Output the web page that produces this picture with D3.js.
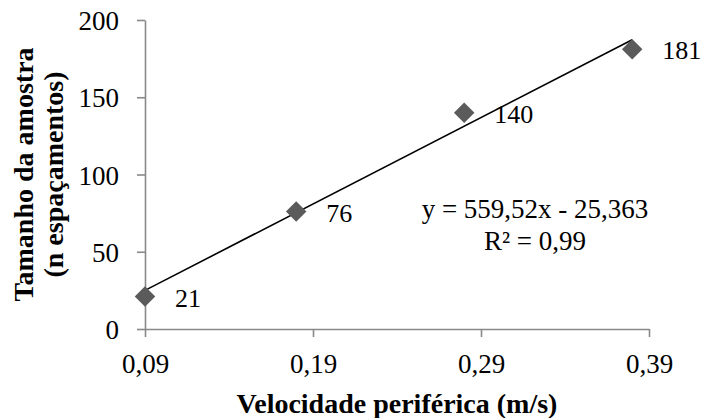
<!DOCTYPE html>
<html>
<head>
<meta charset="utf-8">
<script src="https://cdn.jsdelivr.net/npm/d3@7"></script>
<style>
  html, body { margin: 0; padding: 0; background: #fff; }
  svg { display: block; }
  text { font-family: "Liberation Serif", "Times New Roman", serif; }
</style>
</head>
<body>
<svg id="chart" width="701" height="418"></svg>
<script>
const velocity = [0.09, 0.18, 0.28, 0.38];
const sampleSize = [21, 76, 140, 181];
const xTicks = [0.09, 0.19, 0.29, 0.39];
const yTicks = [0, 50, 100, 150, 200];
const trendSlope = 559.52;
const trendIntercept = -25.363;
const equationLines = ["y = 559,52x - 25,363", "R² = 0,99"];
const xTitle = "Velocidade periférica (m/s)";
const yTitleLines = ["Tamanho da amostra", "(n espaçamentos)"];

(function () {
const svg = d3.select("#chart");
const mLeft = 145, mRight = 649, mTop = 20, mBottom = 329;
const x = d3.scaleLinear().domain([0.09, 0.39]).range([mLeft, mRight]);
const y = d3.scaleLinear().domain([0, 200]).range([mBottom, mTop]);
const fmt = d => d3.format(".2f")(d).replace(".", ",");
const axisColor = "#898989";

// X axis
const gx = svg.append("g").attr("transform", `translate(0,${mBottom})`)
  .call(d3.axisBottom(x).tickValues(xTicks).tickFormat(fmt).tickSize(8).tickPadding(17).tickSizeOuter(0));
// Y axis
const gy = svg.append("g").attr("transform", `translate(${mLeft},0)`)
  .call(d3.axisLeft(y).tickValues(yTicks).tickSize(8).tickPadding(18).tickSizeOuter(0));
[gx, gy].forEach(g => {
  g.select(".domain").attr("stroke", axisColor).attr("stroke-width", 1.6);
  g.selectAll(".tick line").attr("stroke", axisColor).attr("stroke-width", 1.6);
  g.selectAll(".tick text").attr("fill", "#000").attr("font-size", 27)
    .attr("font-family", "Liberation Serif, Times New Roman, serif");
});
gy.selectAll(".tick text").attr("dy", "0.36em");

// Trend line
const xs = d3.extent(velocity);
svg.append("line")
  .attr("x1", x(xs[0])).attr("y1", y(trendSlope * xs[0] + trendIntercept))
  .attr("x2", x(xs[1])).attr("y2", y(trendSlope * xs[1] + trendIntercept))
  .attr("stroke", "#000").attr("stroke-width", 1.6);

// Markers
const data = velocity.map((v, i) => ({ v, n: sampleSize[i] }));
const diamond = d3.symbol().type(d3.symbolSquare).size(210);
svg.append("g").selectAll("path").data(data).join("path")
  .attr("d", diamond)
  .attr("transform", d => `translate(${x(d.v)},${y(d.n)}) rotate(45)`)
  .attr("fill", "#5b5b5b");

// Data labels
svg.append("g").selectAll("text").data(data).join("text")
  .attr("x", d => x(d.v) + 30)
  .attr("y", d => y(d.n) + 10)
  .attr("font-size", 26)
  .text(d => d.n);

// Equation
const eq = svg.append("text").attr("text-anchor", "middle").attr("font-size", 27);
equationLines.forEach((t, i) => {
  eq.append("tspan").attr("x", 535).attr("y", 218 + i * 32).text(t);
});

// X title
svg.append("text").attr("x", (mLeft + mRight) / 2).attr("y", 413)
  .attr("text-anchor", "middle").attr("font-size", 28).attr("font-weight", "bold")
  .text(xTitle);

// Y title
const yt = svg.append("text").attr("transform", `translate(0,${(mTop + mBottom) / 2}) rotate(-90)`)
  .attr("text-anchor", "middle").attr("font-size", 28).attr("font-weight", "bold");
yTitleLines.forEach((t, i) => {
  yt.append("tspan").attr("x", 0).attr("y", 33 + i * 30).text(t);
});
})();
</script>
</body>
</html>
